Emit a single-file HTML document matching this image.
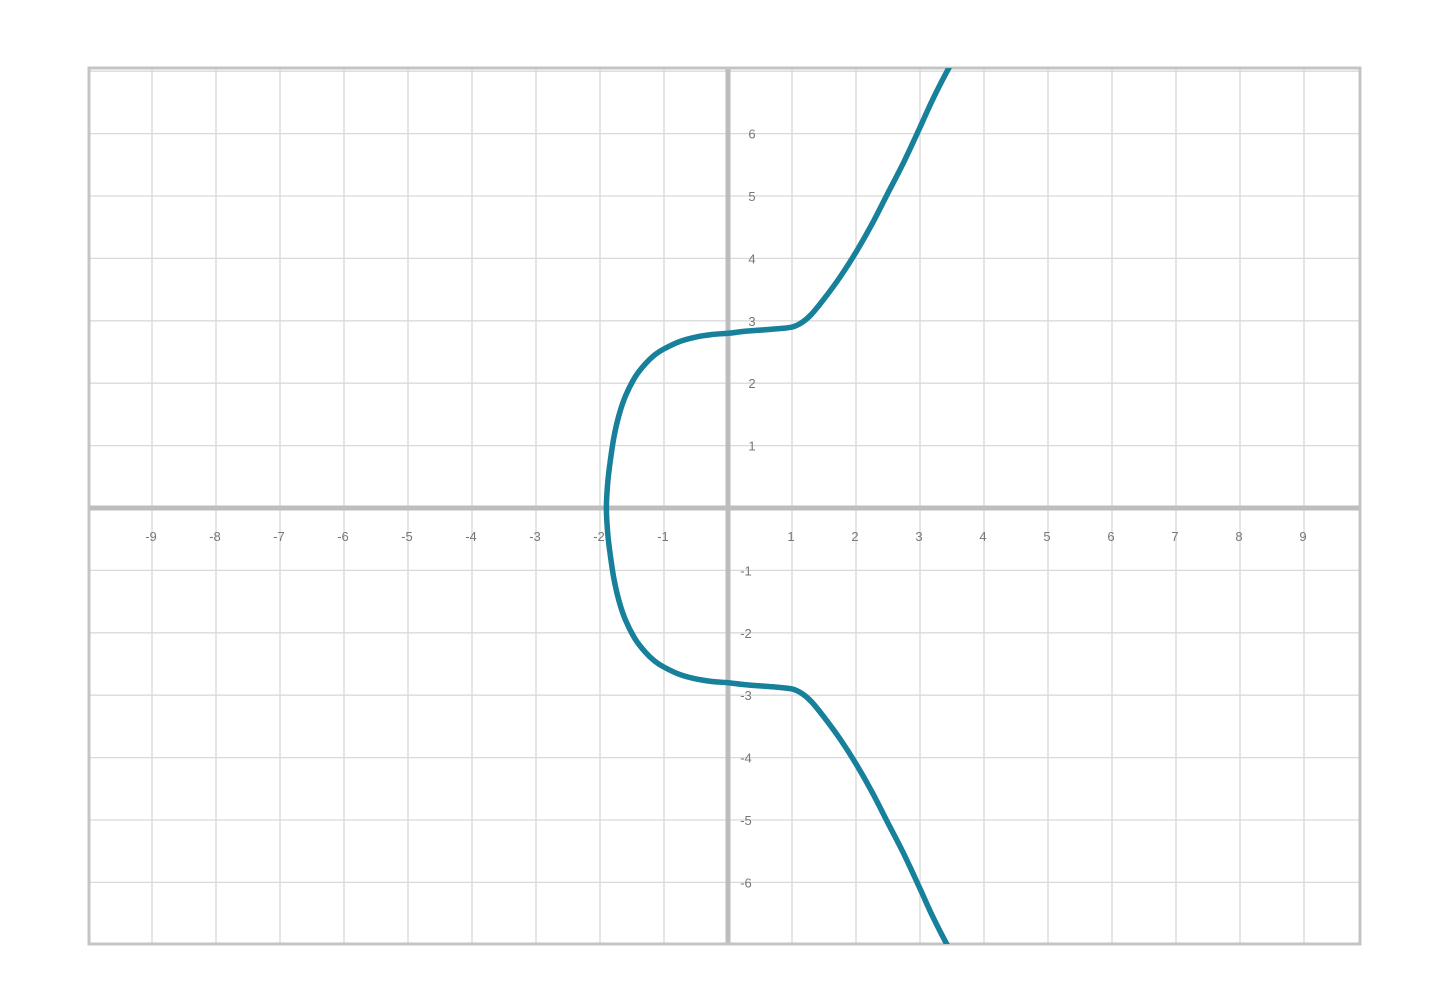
<!DOCTYPE html>
<html><head><meta charset="utf-8"><style>
html,body{margin:0;padding:0;background:#fff;}
svg{display:block;font-family:"Liberation Sans",sans-serif;}
</style></head><body>
<svg id="chart" width="1452" height="1002"><defs><clipPath id="clip"><rect x="89" y="68" width="1271" height="876"/></clipPath></defs></svg>
<script>
const xTicks=[-9,-8,-7,-6,-5,-4,-3,-2,-1,1,2,3,4,5,6,7,8,9];
const yTicks=[-6,-5,-4,-3,-2,-1,1,2,3,4,5,6];
const curveX=[3.6,3.45,3.2,3,2.75,2.5,2.25,2,1.75,1.5,1.3,1.15,1,0.75,0.5,0.25,0,-0.25,-0.5,-0.75,-1,-1.15,-1.3,-1.45,-1.6,-1.7,-1.78,-1.84,-1.88,-1.9];
const curveY=[7.3,7.05,6.55,6.1,5.55,5.05,4.55,4.1,3.7,3.35,3.1,2.97,2.9,2.87,2.85,2.83,2.8,2.78,2.74,2.67,2.55,2.45,2.3,2.1,1.8,1.5,1.15,0.75,0.4,0];
const L=89,R=1360,T=68,B=944,X0=728,Y0=508,SX=64,SY=62.4;
const sx=v=>X0+v*SX, sy=v=>Y0-v*SY;
const svg=document.getElementById('chart');
const NS='http://www.w3.org/2000/svg';
function mk(t,a){const e=document.createElementNS(NS,t);for(const k in a)e.setAttribute(k,a[k]);svg.appendChild(e);return e;}
for(let i=-10;i<=10;i++){const x=sx(i);if(x>L&&x<R&&i!==0){const g=mk('line',{x1:x,y1:T,x2:x,y2:B,stroke:'#d9d9d9','stroke-width':1.3});

}}
for(let i=-8;i<=8;i++){const y=sy(i);if(y>T&&y<B&&i!==0){const g=mk('line',{x1:L,y1:y,x2:R,y2:y,stroke:'#d9d9d9','stroke-width':1.3});

}}
const ax=mk('line',{x1:L,y1:Y0,x2:R,y2:Y0,stroke:'#bdbdbd','stroke-width':5});


const ay=mk('line',{x1:X0,y1:T,x2:X0,y2:B,stroke:'#bdbdbd','stroke-width':5});


const bd=mk('rect',{x:L,y:T,width:R-L,height:B-T,fill:'none',stroke:'#c4c4c4','stroke-width':3});


xTicks.forEach(v=>{const t=mk('text',{x:sx(v)-1,y:Y0+33,'font-size':13,fill:'#777','text-anchor':'middle'});t.textContent=v;

});
yTicks.forEach(v=>{const t=mk('text',{x:X0+(v<0?18:24),y:sy(v)+5,'font-size':13,fill:'#777','text-anchor':'middle'});t.textContent=v;

});
const pts=[];
for(let i=0;i<curveX.length;i++)pts.push([sx(curveX[i]),sy(curveY[i])]);
for(let i=curveX.length-2;i>=0;i--)pts.push([sx(curveX[i]),sy(-curveY[i])]);
let d='M'+pts[0][0]+','+pts[0][1];
for(let i=0;i<pts.length-1;i++){const p0=pts[Math.max(0,i-1)],p1=pts[i],p2=pts[i+1],p3=pts[Math.min(pts.length-1,i+2)];
d+=' C'+(p1[0]+(p2[0]-p0[0])/6)+','+(p1[1]+(p2[1]-p0[1])/6)+' '+(p2[0]-(p3[0]-p1[0])/6)+','+(p2[1]-(p3[1]-p1[1])/6)+' '+p2[0]+','+p2[1];}
const cp=mk('path',{d:d,fill:'none',stroke:'#17809a','stroke-width':5.5,'stroke-linecap':'round','stroke-linejoin':'round','clip-path':'url(#clip)'});


</script>
</body></html>
